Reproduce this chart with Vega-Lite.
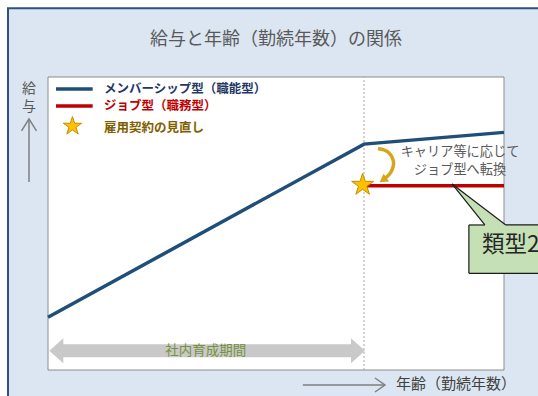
{
  "$schema": "https://vega.github.io/schema/vega-lite/v6.json",
  "width": 456,
  "height": 293,
  "autosize": {"type": "none"},
  "padding": {"left": 48, "top": 77, "right": 34, "bottom": 26},
  "background": "white",
  "config": {"view": {"stroke": null, "fill": null}, "font": "Noto Sans CJK JP"},
  "datasets": {
    "frame": [{"x": -8.77, "x2": 130, "y": 123.5, "y2": -30}],
    "chart_title": [{"x": 50.0, "y": 112.6, "text": "給与と年齢（勤続年数）の関係"}],
    "plot": [{"x": 0, "x2": 100, "y": 0, "y2": 100}],
    "divider": [{"x": 69.3, "y": 0, "y2": 100}],
    "salary": [
      {"type": "メンバーシップ型（職能型）", "age": 0, "pay": 18.0},
      {"type": "メンバーシップ型（職能型）", "age": 69.3, "pay": 77.1},
      {"type": "メンバーシップ型（職能型）", "age": 100, "pay": 81.1},
      {"type": "ジョブ型（職務型）", "age": 69.3, "pay": 62.9},
      {"type": "ジョブ型（職務型）", "age": 100, "pay": 62.9}
    ],
    "span": [{"x": 3.2, "x2": 66.6, "y": 6.59}],
    "span_heads": [{"x": 1.82, "y": 6.59, "dir": "left"}, {"x": 67.98, "y": 6.59, "dir": "right"}],
    "span_label": [{"x": 34.6, "y": 6.59, "text": "社内育成期間"}],
    "curve": [
      {"i": 0, "x": 72.37, "y": 75.6},
      {"i": 1, "x": 74.56, "y": 74.4},
      {"i": 2, "x": 75.77, "y": 70.99},
      {"i": 3, "x": 75.22, "y": 67.58},
      {"i": 4, "x": 73.9, "y": 65.36}
    ],
    "curve_head": [{"x": 73.46, "y": 64.85}],
    "star": [{"x": 69.0, "y": 63.17}],
    "note": [
      {"x": 90.35, "y": 74.5, "text": "キャリア等に応じて"},
      {"x": 90.35, "y": 68.2, "text": "ジョブ型へ転換"}
    ],
    "callout_box": [{"x": 92.3, "x2": 130, "y": 49.5, "y2": 33.0}],
    "callout_pointer": [
      {"x": 88.6, "y": 63.5, "y2": 63.5},
      {"x": 95.8, "y": 54.96, "y2": 49.5},
      {"x": 100.4, "y": 49.5, "y2": 49.5}
    ],
    "callout_edges": [
      {"x": 92.3, "x2": 95.8, "y": 49.5, "y2": 49.5},
      {"x": 100.4, "x2": 130, "y": 49.5, "y2": 49.5},
      {"x": 92.3, "x2": 92.3, "y": 49.5, "y2": 33.0},
      {"x": 92.3, "x2": 130, "y": 33.0, "y2": 33.0},
      {"x": 88.6, "x2": 95.8, "y": 63.5, "y2": 49.5},
      {"x": 88.6, "x2": 100.4, "y": 63.5, "y2": 49.5}
    ],
    "callout_label": [{"x": 95.2, "y": 42.5, "text": "類型2"}],
    "legend_lines": [
      {"type": "メンバーシップ型（職能型）", "x": 1.75, "x2": 9.8, "y": 95.9},
      {"type": "ジョブ型（職務型）", "x": 1.75, "x2": 9.8, "y": 90.1}
    ],
    "legend_star": [{"x": 5.37, "y": 83.2}],
    "legend_text": [
      {"x": 12.3, "y": 96.0, "text": "メンバーシップ型（職能型）", "kind": "member"},
      {"x": 12.3, "y": 90.0, "text": "ジョブ型（職務型）", "kind": "job"},
      {"x": 12.3, "y": 82.6, "text": "雇用契約の見直し", "kind": "review"}
    ],
    "y_label": [{"x": -4.17, "y": 96.0, "text": "給"}, {"x": -4.17, "y": 89.7, "text": "与"}],
    "axis_arrows": [
      {"seg": "yshaft", "i": 0, "x": -4.17, "y": 85.7},
      {"seg": "yshaft", "i": 1, "x": -4.17, "y": 64.2},
      {"seg": "yhead", "i": 0, "x": -5.8, "y": 81.6},
      {"seg": "yhead", "i": 1, "x": -4.17, "y": 85.7},
      {"seg": "yhead", "i": 2, "x": -2.53, "y": 81.6},
      {"seg": "xshaft", "i": 0, "x": 55.9, "y": -5.12},
      {"seg": "xshaft", "i": 1, "x": 73.9, "y": -5.12},
      {"seg": "xhead", "i": 0, "x": 71.7, "y": -2.73},
      {"seg": "xhead", "i": 1, "x": 73.9, "y": -5.12},
      {"seg": "xhead", "i": 2, "x": 71.7, "y": -7.51}
    ],
    "x_label": [{"x": 76.3, "y": -4.78, "text": "年齢（勤続年数）"}]
  },
  "encoding": {
    "x": {"field": "x", "type": "quantitative", "scale": {"domain": [0, 100]}, "axis": null},
    "y": {"field": "y", "type": "quantitative", "scale": {"domain": [0, 100]}, "axis": null}
  },
  "resolve": {"scale": {"color": "independent", "fill": "independent", "shape": "independent"}},
  "layer": [
    {
      "data": {"name": "frame"},
      "mark": {"type": "rect", "fill": "#dce6f2", "stroke": "#2f4f86", "strokeWidth": 2, "clip": false},
      "encoding": {"x2": {"field": "x2"}, "y2": {"field": "y2"}}
    },
    {
      "data": {"name": "chart_title"},
      "mark": {"type": "text", "fontSize": 18, "fill": "#595959", "align": "center", "baseline": "middle", "clip": false},
      "encoding": {"text": {"field": "text"}}
    },
    {
      "data": {"name": "plot"},
      "mark": {"type": "rect", "fill": "white", "stroke": "#8c8c8c", "strokeWidth": 1, "clip": false},
      "encoding": {"x2": {"field": "x2"}, "y2": {"field": "y2"}}
    },
    {
      "data": {"name": "divider"},
      "mark": {"type": "rule", "stroke": "#a6a6a6", "strokeWidth": 1, "strokeDash": [2, 2], "clip": false},
      "encoding": {"y2": {"field": "y2"}}
    },
    {
      "data": {"name": "salary"},
      "mark": {"type": "line", "strokeWidth": 3.5, "clip": false},
      "encoding": {
        "x": {"field": "age", "type": "quantitative", "scale": {"domain": [0, 100]}, "axis": null},
        "y": {"field": "pay", "type": "quantitative", "scale": {"domain": [0, 100]}, "axis": null},
        "color": {"field": "type", "type": "nominal", "scale": {"domain": ["メンバーシップ型（職能型）", "ジョブ型（職務型）"], "range": ["#1f4e79", "#c00000"]}, "legend": null}
      }
    },
    {
      "data": {"name": "span"},
      "mark": {"type": "rule", "stroke": "#c9c9c9", "strokeWidth": 13, "strokeCap": "butt", "clip": false},
      "encoding": {"x2": {"field": "x2"}}
    },
    {
      "data": {"name": "span_heads"},
      "mark": {"type": "point", "filled": true, "fill": "#c9c9c9", "opacity": 1, "size": 625, "strokeWidth": 0, "clip": false},
      "encoding": {
        "shape": {"field": "dir", "type": "nominal", "scale": {"domain": ["left", "right"], "range": ["M 0.56 -1 L -0.56 0 L 0.56 1 Z", "M -0.56 -1 L 0.56 0 L -0.56 1 Z"]}, "legend": null}
      }
    },
    {
      "data": {"name": "span_label"},
      "mark": {"type": "text", "fontSize": 13.5, "fill": "#76923c", "align": "center", "baseline": "middle", "clip": false},
      "encoding": {"text": {"field": "text"}}
    },
    {
      "data": {"name": "curve"},
      "mark": {"type": "line", "interpolate": "cardinal", "stroke": "#d6a51c", "strokeWidth": 3.5, "clip": false},
      "encoding": {"order": {"field": "i", "type": "quantitative"}}
    },
    {
      "data": {"name": "curve_head"},
      "mark": {"type": "point", "shape": "triangle-up", "angle": 235, "size": 90, "filled": true, "fill": "#d6a51c", "opacity": 1, "strokeWidth": 0, "clip": false}
    },
    {
      "data": {"name": "star"},
      "mark": {"type": "point", "shape": "M0,-1L0.2245,-0.309L0.951,-0.309L0.363,0.118L0.588,0.809L0,0.382L-0.588,0.809L-0.363,0.118L-0.951,-0.309L-0.2245,-0.309Z", "size": 535, "filled": true, "fill": "#ffc000", "stroke": "#bf9000", "strokeWidth": 1, "opacity": 1, "clip": false}
    },
    {
      "data": {"name": "note"},
      "mark": {"type": "text", "fontSize": 13.2, "fill": "#595959", "align": "center", "baseline": "middle", "clip": false},
      "encoding": {"text": {"field": "text"}}
    },
    {
      "data": {"name": "callout_box"},
      "mark": {"type": "rect", "fill": "#c5e0b4", "strokeWidth": 0, "clip": false},
      "encoding": {"x2": {"field": "x2"}, "y2": {"field": "y2"}}
    },
    {
      "data": {"name": "callout_pointer"},
      "mark": {"type": "area", "fill": "#c5e0b4", "opacity": 1, "strokeWidth": 0, "clip": false},
      "encoding": {"y2": {"field": "y2"}}
    },
    {
      "data": {"name": "callout_edges"},
      "mark": {"type": "rule", "stroke": "#1a1a1a", "strokeWidth": 1.2, "clip": false},
      "encoding": {"x2": {"field": "x2"}, "y2": {"field": "y2"}}
    },
    {
      "data": {"name": "callout_label"},
      "mark": {"type": "text", "fontSize": 22.5, "fill": "#262626", "align": "left", "baseline": "middle", "clip": false},
      "encoding": {"text": {"field": "text"}}
    },
    {
      "data": {"name": "legend_lines"},
      "mark": {"type": "rule", "strokeWidth": 3.5, "clip": false},
      "encoding": {
        "x2": {"field": "x2"},
        "color": {"field": "type", "type": "nominal", "scale": {"domain": ["メンバーシップ型（職能型）", "ジョブ型（職務型）"], "range": ["#1f4e79", "#c00000"]}, "legend": null}
      }
    },
    {
      "data": {"name": "legend_star"},
      "mark": {"type": "point", "shape": "M0,-1L0.2245,-0.309L0.951,-0.309L0.363,0.118L0.588,0.809L0,0.382L-0.588,0.809L-0.363,0.118L-0.951,-0.309L-0.2245,-0.309Z", "size": 370, "filled": true, "fill": "#ffc000", "stroke": "#bf9000", "strokeWidth": 1, "opacity": 1, "clip": false}
    },
    {
      "data": {"name": "legend_text"},
      "mark": {"type": "text", "fontSize": 12.5, "fontWeight": "bold", "align": "left", "baseline": "middle", "clip": false},
      "encoding": {
        "text": {"field": "text"},
        "fill": {"field": "kind", "type": "nominal", "scale": {"domain": ["member", "job", "review"], "range": ["#1f3864", "#c00000", "#7f6000"]}, "legend": null}
      }
    },
    {
      "data": {"name": "y_label"},
      "mark": {"type": "text", "fontSize": 14, "fill": "#595959", "align": "center", "baseline": "middle", "clip": false},
      "encoding": {"text": {"field": "text"}}
    },
    {
      "data": {"name": "axis_arrows"},
      "mark": {"type": "line", "stroke": "#7f7f7f", "strokeWidth": 1.5, "clip": false},
      "encoding": {"detail": {"field": "seg"}, "order": {"field": "i", "type": "quantitative"}}
    },
    {
      "data": {"name": "x_label"},
      "mark": {"type": "text", "fontSize": 15, "fill": "#404040", "align": "left", "baseline": "middle", "clip": false},
      "encoding": {"text": {"field": "text"}}
    }
  ]
}
